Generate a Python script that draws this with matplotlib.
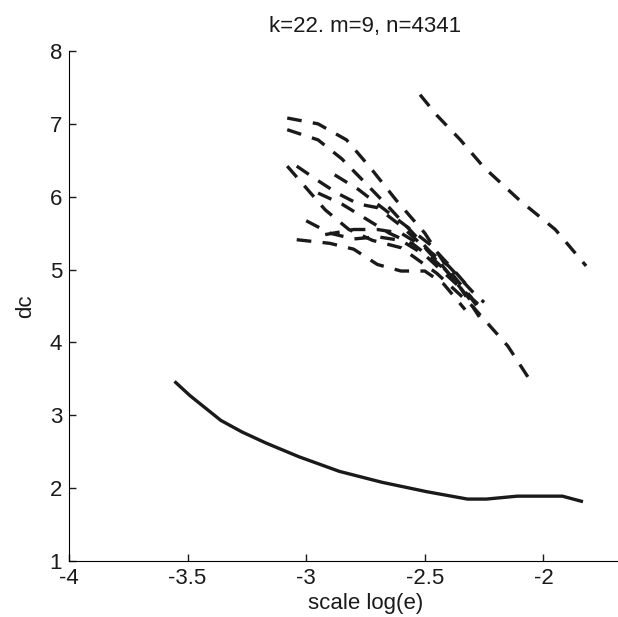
import numpy as np
import matplotlib.pyplot as plt

plt.rcParams['font.family'] = ['Liberation Sans', 'DejaVu Sans']

# solid curve
solid_x = [-3.55, -3.49, -3.36, -3.27, -3.17, -3.03, -2.86, -2.68, -2.49, -2.32, -2.24, -2.11, -1.92, -1.84]
solid_y = [3.45, 3.27, 2.93, 2.77, 2.62, 2.43, 2.23, 2.08, 1.95, 1.85, 1.85, 1.89, 1.89, 1.82]

# isolated dashed curve (top right)
top_x = [-2.52, -2.45, -2.35, -2.25, -2.10, -1.95, -1.82]
top_y = [7.40, 7.12, 6.78, 6.40, 5.95, 5.55, 5.05]

# dashed bundle
c1_x = [-3.08, -2.95, -2.83, -2.73, -2.62, -2.50, -2.40, -2.30, -2.25]
c1_y = [7.08, 7.00, 6.78, 6.40, 5.95, 5.50, 5.00, 4.60, 4.45]
c2_x = [-3.08, -2.95, -2.85, -2.76, -2.65, -2.55, -2.45, -2.35, -2.27]
c2_y = [6.92, 6.78, 6.52, 6.22, 5.85, 5.50, 5.15, 4.75, 4.35]
c3_x = [-3.08, -3.00, -2.92, -2.82, -2.72, -2.60, -2.45, -2.30, -2.15, -2.05]
c3_y = [6.42, 6.12, 5.82, 5.55, 5.40, 5.30, 4.95, 4.50, 3.95, 3.45]
c4_x = [-3.04, -2.95, -2.87, -2.78, -2.70, -2.60, -2.50, -2.40, -2.30]
c4_y = [6.42, 6.22, 6.05, 5.90, 5.85, 5.60, 5.30, 4.95, 4.55]
c5_x = [-3.00, -2.90, -2.80, -2.70, -2.60, -2.50, -2.40, -2.30]
c5_y = [5.67, 5.50, 5.42, 5.45, 5.40, 5.20, 4.90, 4.60]
c6_x = [-3.04, -2.90, -2.80, -2.70, -2.60, -2.50, -2.42, -2.33]
c6_y = [5.41, 5.36, 5.28, 5.07, 4.98, 4.98, 4.80, 4.45]
c7_x = [-2.92, -2.80, -2.70, -2.60, -2.50, -2.40, -2.30, -2.25]
c7_y = [5.48, 5.55, 5.55, 5.50, 5.30, 5.05, 4.70, 4.55]
c8_x = [-2.95, -2.85, -2.75, -2.65, -2.55, -2.45, -2.35, -2.28]
c8_y = [6.05, 5.90, 5.70, 5.50, 5.35, 5.10, 4.80, 4.50]
c9_x = [-2.88, -2.78, -2.68, -2.58, -2.48, -2.38, -2.30]
c9_y = [6.30, 6.10, 5.85, 5.60, 5.35, 5.00, 4.70]

bundle = [(c1_x, c1_y), (c2_x, c2_y), (c3_x, c3_y), (c4_x, c4_y), (c5_x, c5_y),
          (c6_x, c6_y), (c7_x, c7_y), (c8_x, c8_y), (c9_x, c9_y)]

fig = plt.figure(figsize=(6.18, 6.17), dpi=100)
# axes runs past the right edge, like the cropped original
ax = fig.add_axes([69/618, 1 - 561/617, (662 - 69)/618, (561 - 51)/617])

ax.plot(solid_x, solid_y, color='#1a1a1a', lw=2.4)
ax.plot(top_x, top_y, color='#1a1a1a', lw=2.4, dashes=(4.4, 3.4))
for bx, by in bundle:
    ax.plot(bx, by, color='#1a1a1a', lw=2.4, dashes=(4.4, 3.4))

ax.set_xlim(-4, -1.5)
ax.set_ylim(1, 8)
ax.set_xticks([-4, -3.5, -3, -2.5, -2])
ax.set_xticklabels(['-4', '-3.5', '-3', '-2.5', '-2'])
ax.set_yticks([1, 2, 3, 4, 5, 6, 7, 8])
ax.spines['top'].set_visible(False)
ax.spines['right'].set_visible(False)
ax.tick_params(direction='in', length=5, width=1, labelsize=16, pad=5, colors='#1a1a1a')

ax.set_xlabel('scale log(e)', fontsize=16, color='#1a1a1a', labelpad=3)
ax.set_ylabel('dc', fontsize=16, color='#1a1a1a', labelpad=10)
ax.set_title('k=22. m=9, n=4341', fontsize=16, color='#1a1a1a', pad=14)

fig.savefig('out.png', dpi=100)
